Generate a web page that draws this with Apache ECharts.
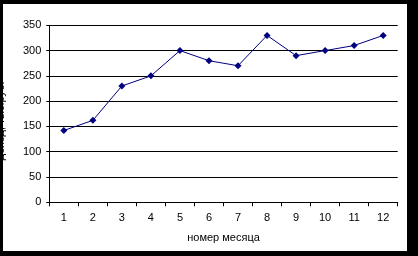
<!DOCTYPE html>
<html><head><meta charset="utf-8">
<script src="https://cdn.jsdelivr.net/npm/echarts@6/dist/echarts.min.js"></script>
<style>
html,body{margin:0;padding:0;background:#000;width:418px;height:256px;overflow:hidden}
#c{position:absolute;left:3px;top:4px;width:404px;height:247px;background:#fff}
</style></head>
<body><div id="c"></div>
<script>
const months = ['1','2','3','4','5','6','7','8','9','10','11','12'];
const values = [142, 162, 230, 250, 300, 280, 270, 330, 290, 300, 310, 330];
const yTicks = {min: 0, max: 350, interval: 50};
const xTitle = 'номер месяца';
const yTitle = 'доход, тыс.руб.';

const chart = echarts.init(document.getElementById('c'), null, {renderer: 'canvas'});
const font = 'Liberation Sans';
chart.setOption({
  animation: false,
  backgroundColor: '#fff',
  grid: {left: 46.3, top: 21.3, right: 9.3, bottom: 48.7, containLabel: false, outerBoundsMode: 'none'},
  xAxis: {
    type: 'category', data: months, boundaryGap: true,
    name: xTitle, nameLocation: 'middle', nameGap: 30,
    nameTextStyle: {fontFamily: font, fontSize: 11, color: '#000'},
    axisLine: {lineStyle: {color: '#000', width: 1}},
    axisTick: {show: true, length: 4, lineStyle: {color: '#000'}},
    axisLabel: {fontFamily: font, fontSize: 11, color: '#000', margin: 10},
    splitLine: {show: false}
  },
  yAxis: {
    type: 'value', min: yTicks.min, max: yTicks.max, interval: yTicks.interval,
    name: yTitle, nameLocation: 'middle', nameGap: 43, nameRotate: 90,
    nameTextStyle: {fontFamily: font, fontSize: 11, color: '#000', padding: [0, 14, 0, 0]},
    axisLine: {show: true, lineStyle: {color: '#000', width: 1}},
    axisTick: {show: true, length: 3, lineStyle: {color: '#000'}},
    axisLabel: {fontFamily: font, fontSize: 11, color: '#000', margin: 8},
    splitLine: {show: true, lineStyle: {color: '#000', width: 1}}
  },
  series: [{
    type: 'line', data: values,
    symbol: 'diamond', symbolSize: 7,
    lineStyle: {color: '#000080', width: 1},
    itemStyle: {color: '#000080'}
  }]
});
</script></body></html>
